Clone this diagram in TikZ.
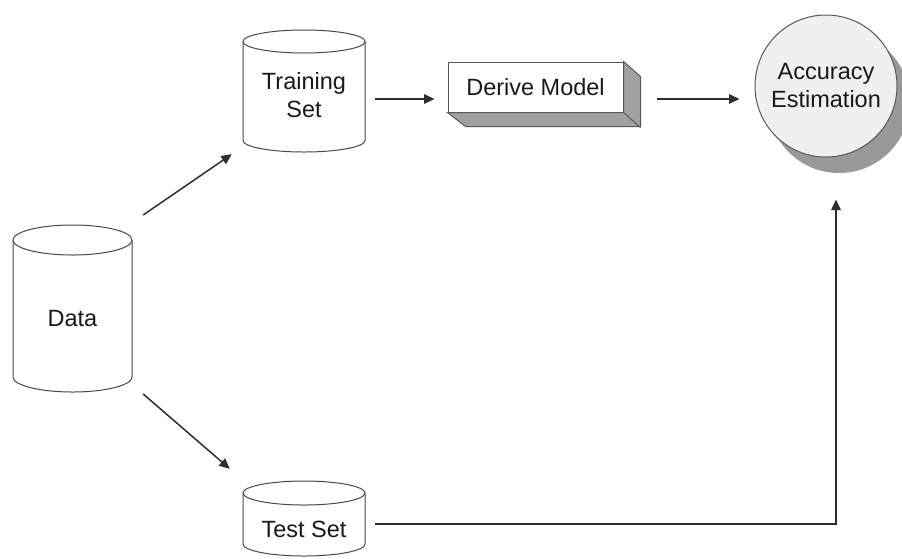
\documentclass[tikz,border=0pt]{standalone}
\usepackage{fontspec}
\setmainfont{Liberation Sans}
\usetikzlibrary{arrows.meta,shadows}

% database cylinder: centre x, top y, bottom y, half width, ellipse radius
\newcommand\dbcylinder[5]{%
  \draw[cylline] (#1-#4,#2+#5) -- (#1-#4,#3-#5)
    arc[start angle=180,end angle=360,x radius=#4pt,y radius=#5pt]
    -- (#1+#4,#2+#5);
  \draw[cylline] (#1,#2+#5) ellipse[x radius=#4pt,y radius=#5pt];
}

\begin{document}
\begin{tikzpicture}[x=1pt,y=-1pt,
  lbl/.style={font=\fontsize{23.5}{28}\selectfont, text=black!90, align=center, inner sep=0pt},
  cylline/.style={draw=black!72, line width=1pt, fill=white},
  boxline/.style={draw=black!65, line width=1pt},
  arr/.style={draw=black!82, line width=1.5pt, -{Triangle[length=10.5pt,width=9.5pt]}},
]
\useasboundingbox (0,0) rectangle (902,558);

% storage cylinders
\dbcylinder{304}{30}{152}{61}{11.5}
\dbcylinder{72.5}{225}{392}{59.5}{15}
\dbcylinder{304}{481}{556}{61}{12}

\node[lbl, minimum width=122pt, minimum height=122pt] (train) at (304,95) {Training\\Set};
\node[lbl, minimum width=119pt, minimum height=150pt] (data) at (72.5,319) {Data};
\node[lbl, minimum width=122pt, minimum height=40pt] (test) at (304,529) {Test Set};

% model box with bevelled sides
\node[lbl, boxline, fill=white, minimum width=175pt, minimum height=50pt] (derive) at (535.5,87) {Derive Model};
\draw[boxline, fill=black!37] (derive.north east) -- ++(17,15) -- ++(0,50) -- ++(-175,0)
  -- (derive.south west) -- (derive.south east) -- cycle;
\draw[boxline] (derive.south east) -- ++(17,15);

% estimation disc with drop shadow
\node[lbl, circle, boxline, fill=black!6, minimum size=142pt,
  drop shadow={shadow xshift=13pt, shadow yshift=-16pt, fill=black!40, opacity=1}]
  (acc) at (826,86) {Accuracy\\Estimation};

% connectors
\draw[arr] ([shift={(11,-104)}]data.east) -- ([shift={(-11,-2)}]train.south west);
\draw[arr] ([shift={(11,75)}]data.east) -- ([shift={(-13,-40)}]test.north west);
\draw[arr] ([shift={(10,4)}]train.east) -- ([shift={(-13,12)}]derive.west);
\draw[arr] ([shift={(33,12)}]derive.east) -- ([shift={(-15,13)}]acc.west);
\draw[arr] ([shift={(10,-5)}]test.east) -| ([shift={(10,42)}]acc.south);
\end{tikzpicture}
\end{document}
